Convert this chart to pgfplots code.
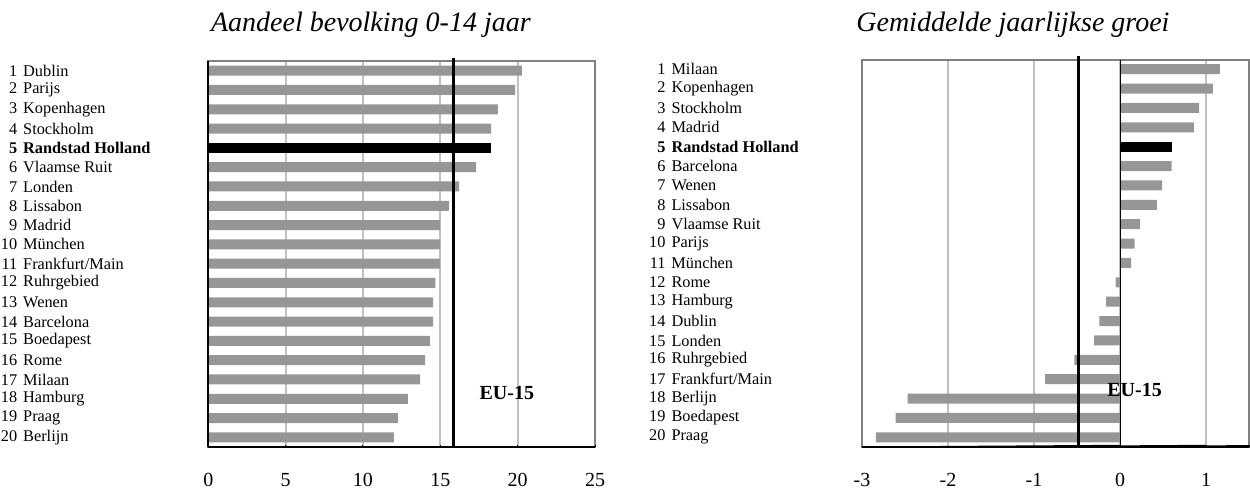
\documentclass[border=0pt]{standalone}
\usepackage{fontspec}
\setmainfont{Liberation Serif}
\usepackage{pgfplots}
\pgfplotsset{compat=1.18}
\definecolor{bargray}{HTML}{969696}
\definecolor{framegray}{HTML}{808080}
\definecolor{gridgray}{HTML}{C0C0C0}
\newcommand{\lab}[2]{\makebox[19pt][r]{#1}\hspace{6pt}#2}
\newcommand{\blab}[2]{\textbf{\makebox[19pt][r]{#1}\hspace{6pt}#2}}
\pgfplotsset{mybase/.style={
  scale only axis, anchor=south west,
  axis line style={framegray, line width=2pt},
  xmajorgrids, major grid style={gridgray, line width=2pt},
  y dir=reverse, ymin=0.5, ymax=20.5, ytick={1,...,20},
  ytick style={draw=none},
  ytick pos=left, xtick pos=bottom,
  tick align=outside,
  major tick length=8pt,
  xtick style={draw=none},
  yticklabel style={font=\fontsize{16.3}{19}\selectfont, anchor=west, inner sep=0pt},
  xticklabel style={font=\fontsize{20}{24}\selectfont, anchor=base, inner sep=0pt, yshift=-31pt},
  enlargelimits=false,
  clip=false,
  xbar, bar width=10pt,
}}
\begin{document}
\begin{tikzpicture}
\path[use as bounding box] (0,0) rectangle (1250pt,493pt);
% ---------- left chart ----------
\begin{axis}[mybase,
  at={(208.3pt,46pt)}, width=386.7pt, height=386pt,
  xmin=0, xmax=25, xtick={0,5,10,15,20,25},
  xticklabels={0,5,10,15,20,25},
  yticklabel style={xshift=-202.3pt},
  yticklabels={{\lab{1}{Dublin}},{\lab{2}{Parijs}},{\lab{3}{Kopenhagen}},{\lab{4}{Stockholm}},{\blab{5}{Randstad Holland}},{\lab{6}{Vlaamse Ruit}},{\lab{7}{Londen}},{\lab{8}{Lissabon}},{\lab{9}{Madrid}},{\lab{10}{München}},{\lab{11}{Frankfurt/Main}},{\lab{12}{Ruhrgebied}},{\lab{13}{Wenen}},{\lab{14}{Barcelona}},{\lab{15}{Boedapest}},{\lab{16}{Rome}},{\lab{17}{Milaan}},{\lab{18}{Hamburg}},{\lab{19}{Praag}},{\lab{20}{Berlijn}}},
]
\addplot[fill=bargray, draw=none, bar shift=0pt] coordinates {
(20.28,1) (19.84,2) (18.72,3) (18.28,4) (17.31,6) (16.22,7) (15.55,8) (14.98,9) (14.98,10) (14.98,11) (14.68,12) (14.53,13) (14.53,14) (14.33,15) (14.01,16) (13.69,17) (12.90,18) (12.25,19) (12.00,20)};
\addplot[fill=black, draw=none, bar shift=0pt] coordinates {(18.28,5)};
\draw[black, line width=1.5pt] (axis description cs:0,0) -- (axis description cs:1,0);
\draw[black, line width=2pt] (axis description cs:0,0) -- (axis description cs:0,1);
\draw[black, line width=1pt] (axis cs:0,20.5) -- ++(0,-8pt) (axis cs:5,20.5) -- ++(0,-8pt) (axis cs:10,20.5) -- ++(0,-8pt) (axis cs:15,20.5) -- ++(0,-8pt) (axis cs:20,20.5) -- ++(0,-8pt) (axis cs:25,20.5) -- ++(0,-8pt);
\draw[black, line width=2.5pt] (axis cs:15.84,20.5) -- (axis cs:15.84,0.35);
\node[font=\fontsize{20}{24}\selectfont\bfseries] at (axis cs:19.3,17.7) {EU-15};
\node[anchor=base, inner sep=0pt, font=\fontsize{28}{33}\selectfont\itshape] at ([yshift=30pt]axis description cs:0.4205,1) {Aandeel bevolking 0-14 jaar};
\end{axis}
% ---------- right chart ----------
\begin{axis}[mybase,
  at={(862pt,46pt)}, width=387pt, height=387.5pt,
  xmin=-3, xmax=1.5, xtick={-3,-2,-1,0,1},
  xticklabels={-3,-2,-1,0,1},
  yticklabel style={xshift=-207.7pt},
  yticklabels={{\lab{1}{Milaan}},{\lab{2}{Kopenhagen}},{\lab{3}{Stockholm}},{\lab{4}{Madrid}},{\blab{5}{Randstad Holland}},{\lab{6}{Barcelona}},{\lab{7}{Wenen}},{\lab{8}{Lissabon}},{\lab{9}{Vlaamse Ruit}},{\lab{10}{Parijs}},{\lab{11}{München}},{\lab{12}{Rome}},{\lab{13}{Hamburg}},{\lab{14}{Dublin}},{\lab{15}{Londen}},{\lab{16}{Ruhrgebied}},{\lab{17}{Frankfurt/Main}},{\lab{18}{Berlijn}},{\lab{19}{Boedapest}},{\lab{20}{Praag}}},
]
\addplot[fill=bargray, draw=none, bar shift=0pt] coordinates {
(1.16,1) (1.08,2) (0.92,3) (0.86,4) (0.60,6) (0.49,7) (0.43,8) (0.23,9) (0.17,10) (0.13,11) (-0.05,12) (-0.16,13) (-0.24,14) (-0.30,15) (-0.53,16) (-0.87,17) (-2.47,18) (-2.61,19) (-2.84,20)};
\addplot[fill=black, draw=none, bar shift=0pt] coordinates {(0.60,5)};
\draw[black, line width=1.5pt] (axis description cs:0,0) -- (axis description cs:1,0);
\draw[black, line width=1pt] (axis cs:-3,20.5) -- ++(0,-8pt) (axis cs:-2,20.5) -- ++(0,-8pt) (axis cs:-1,20.5) -- ++(0,-8pt) (axis cs:0,20.5) -- ++(0,-8pt) (axis cs:1,20.5) -- ++(0,-8pt);
\draw[black, line width=1pt] (axis cs:0,20.5) -- (axis cs:0,0.5);
\draw[black, line width=2.5pt] (axis cs:-0.48,20.5) -- (axis cs:-0.48,0.33);
\node[font=\fontsize{20}{24}\selectfont\bfseries] at (axis cs:0.17,17.56) {EU-15};
\node[anchor=base, inner sep=0pt, font=\fontsize{28}{33}\selectfont\itshape] at ([yshift=28.5pt]axis description cs:0.39,1) {Gemiddelde jaarlijkse groei};
\end{axis}
\end{tikzpicture}
\end{document}
